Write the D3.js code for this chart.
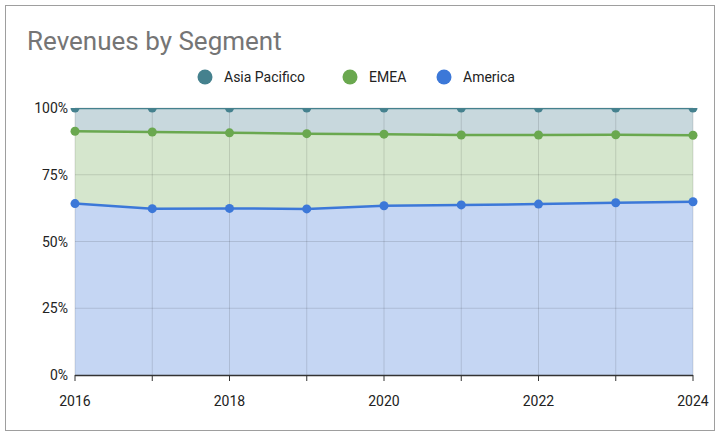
<!DOCTYPE html><html><head><meta charset="utf-8">
<script src="https://cdn.jsdelivr.net/npm/d3@7"></script>
<style>body{margin:0;background:#fff;font-family:Roboto,sans-serif}</style></head><body>
<svg id="c" width="720" height="436"></svg>
<script>
const years=[2016,2017,2018,2019,2020,2021,2022,2023,2024];
const america=[64.2,62.3,62.4,62.2,63.4,63.7,64.0,64.5,64.9];
const emea=[27.1,28.7,28.3,28.2,26.8,26.2,25.9,25.5,24.9];
const asiaPacific=[8.7,9.0,9.3,9.6,9.8,10.1,10.1,10.0,10.2];
const yTicks=[0,25,50,75,100];
const series=[
 {name:"America",vals:america,line:"#3c78d8",fill:"#c5d6f3"},
 {name:"EMEA",vals:emea,line:"#6aa84f",fill:"#d5e6cd"},
 {name:"Asia Pacifico",vals:asiaPacific,line:"#45818e",fill:"#c8d8dd"}];
const svg=d3.select("#c");
svg.append("defs").append("clipPath").attr("id","clip").append("rect").attr("x",60).attr("y",108).attr("width",650).attr("height",280);
svg.append("rect").attr("x",5.5).attr("y",5.5).attr("width",709).attr("height",425).attr("fill","#fff").attr("stroke","#9e9e9e");
svg.append("text").attr("x",27).attr("y",50).attr("font-size",26).attr("fill","#757575").text("Revenues by Segment");
const x=d3.scaleLinear().domain([2016,2024]).range([75,693]);
const y=d3.scaleLinear().domain([0,100]).range([375,108]);
let cum=years.map(()=>0);
const layers=series.map(s=>{const lo=cum.slice();cum=cum.map((c,i)=>c+s.vals[i]);return {...s,lo,hi:cum.slice()};});
layers.forEach(l=>{
 svg.append("path").attr("fill",l.fill).attr("d",d3.area().x((d,i)=>x(years[i])).y0((d,i)=>y(l.lo[i])).y1((d,i)=>y(l.hi[i]))(years));
});
const g=svg.append("g");
yTicks.forEach(t=>{if(t>0)g.append("line").attr("x1",75).attr("x2",693).attr("y1",y(t)).attr("y2",y(t)).attr("stroke","#000").attr("stroke-opacity",0.12);});
years.forEach(t=>g.append("line").attr("x1",x(t)).attr("x2",x(t)).attr("y1",108).attr("y2",375).attr("stroke","#000").attr("stroke-opacity",0.12));
yTicks.forEach(t=>svg.append("text").attr("x",68).attr("y",y(t)+5).attr("text-anchor","end").attr("font-size",14).attr("fill","#222").text(t+"%"));
const pl=svg.append("g").attr("clip-path","url(#clip)");
[...layers].reverse().forEach(l=>{
 pl.append("path").attr("fill","none").attr("stroke",l.line).attr("stroke-width",2.5).attr("d",d3.line().x((d,i)=>x(years[i])).y((d,i)=>y(l.hi[i]))(years));
 years.forEach((yr,i)=>pl.append("circle").attr("cx",x(yr)).attr("cy",y(l.hi[i])).attr("r",4.5).attr("fill",l.line));
});
svg.append("line").attr("x1",75).attr("x2",693).attr("y1",375.5).attr("y2",375.5).attr("stroke","#333").attr("stroke-width",1.5);
years.forEach(t=>svg.append("line").attr("x1",x(t)).attr("x2",x(t)).attr("y1",375).attr("y2",381).attr("stroke","#333"));
years.filter(t=>t%2==0).forEach(t=>svg.append("text").attr("x",x(t)).attr("y",406).attr("text-anchor","middle").attr("font-size",14).attr("fill","#222").text(t));
const leg=[{n:"Asia Pacifico",c:"#45818e",x:205},{n:"EMEA",c:"#6aa84f",x:350},{n:"America",c:"#3c78d8",x:444}];
leg.forEach(l=>{svg.append("circle").attr("cx",l.x).attr("cy",77).attr("r",7.5).attr("fill",l.c);
 svg.append("text").attr("x",l.x+19).attr("y",82).attr("font-size",14).attr("fill","#222").text(l.n);});
</script></body></html>
